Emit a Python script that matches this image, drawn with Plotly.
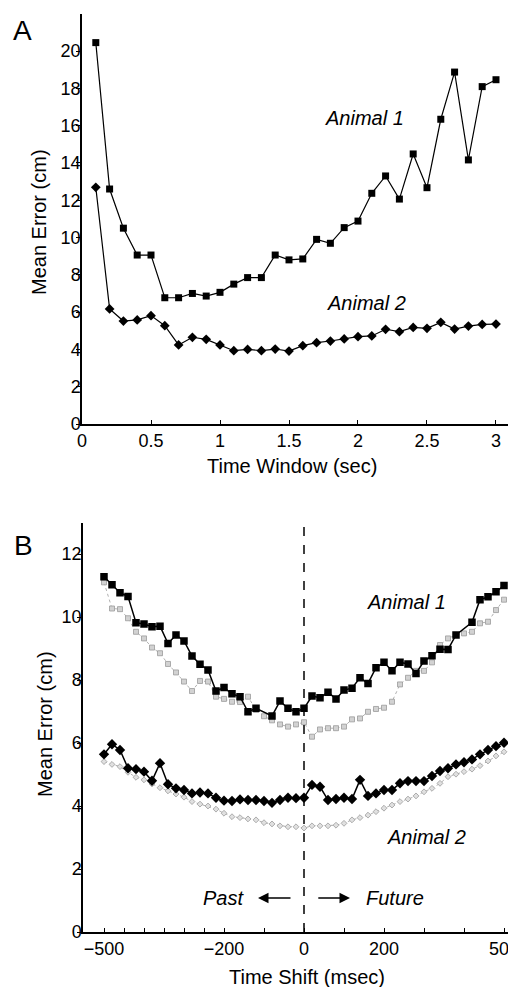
import plotly.graph_objects as go

# ---------------- Panel A data ----------------
a_time_window = [0.1, 0.2, 0.3, 0.4, 0.5, 0.6, 0.7, 0.8, 0.9, 1.0,
                 1.1, 1.2, 1.3, 1.4, 1.5, 1.6, 1.7, 1.8, 1.9, 2.0,
                 2.1, 2.2, 2.3, 2.4, 2.5, 2.6, 2.7, 2.8, 2.9, 3.0]
a_animal1 = [20.45, 12.6, 10.5, 9.06, 9.06, 6.77, 6.77, 7.0, 6.86, 7.06,
             7.5, 7.85, 7.85, 9.06, 8.8, 8.85, 9.9, 9.69, 10.53, 10.88,
             12.37, 13.3, 12.06, 14.48, 12.67, 16.34, 18.87, 14.16, 18.09, 18.46]
a_animal2 = [12.69, 6.17, 5.52, 5.58, 5.81, 5.27, 4.24, 4.65, 4.54, 4.24,
             3.93, 4.0, 3.93, 4.02, 3.91, 4.2, 4.36, 4.45, 4.56, 4.68,
             4.72, 5.08, 4.95, 5.18, 5.13, 5.45, 5.09, 5.25, 5.34, 5.36]
a_xticks = [0, 0.5, 1, 1.5, 2, 2.5, 3]
a_xticklabels = ["0", "0.5", "1", "1.5", "2", "2.5", "3"]
a_yticks = [0, 2, 4, 6, 8, 10, 12, 14, 16, 18, 20]

# ---------------- Panel B data ----------------
b_shift = [-500, -480, -460, -440, -420, -400, -380, -360, -340, -320,
           -300, -280, -260, -240, -220, -200, -180, -160, -140, -120,
           -100, -80, -60, -40, -20, 0, 20, 40, 60, 80,
           100, 120, 140, 160, 180, 200, 220, 240, 260, 280,
           300, 320, 340, 360, 380, 400, 420, 440, 460, 480, 500]
b_animal1 = [11.28, 11.02, 10.77, 10.65, 9.82, 9.78, 9.69, 9.71, 9.16, 9.43,
             9.24, 8.76, 8.50, 8.32, 7.65, 7.76, 7.56, 7.47, 6.99, 7.10,
             None, 6.86, 7.33, 7.10, 6.99, 7.10, 7.49, 7.44, 7.61, 7.40,
             7.68, 7.74, 8.07, 7.89, 8.39, 8.56, 8.29, 8.56, 8.51, 8.21,
             8.60, 8.77, 8.98, 8.97, 9.43, None, 9.83, 10.55, 10.64, 10.80, 11.00]
b_animal1_ref = [11.10, 10.27, 10.25, 9.96, 9.53, 9.32, 9.03, 8.85, 8.51, 8.24,
                 7.95, 7.65, 7.97, 7.95, 7.47, 7.40, 7.31, 7.30, 7.47, 7.05,
                 6.85, 6.72, 6.59, 6.52, 6.59, 6.66, 6.20, 6.43, 6.47, 6.47,
                 6.52, 6.75, 6.78, 6.99, 7.08, 7.12, 7.31, 7.86, 8.07, 8.29,
                 8.29, 8.56, 9.11, 9.32, 9.43, 9.48, 9.53, 9.80, 9.85, 10.22, 10.55]
b_animal2 = [5.64, 5.96, 5.78, 5.20, 5.17, 5.09, 4.80, 5.36, 4.69, 4.56,
             4.51, 4.40, 4.43, 4.40, 4.26, 4.17, 4.16, 4.21, 4.19, 4.19,
             4.16, 4.10, 4.19, 4.26, 4.25, 4.26, 4.67, 4.61, 4.19, 4.22,
             4.26, 4.22, 4.83, 4.32, 4.40, 4.51, 4.51, 4.72, 4.79, 4.79,
             4.79, 4.95, 5.11, 5.20, 5.32, 5.39, 5.48, 5.64, 5.78, 5.90, 6.01]
b_animal2_ref = [5.41, 5.32, 5.25, 5.07, 4.91, 4.83, 4.70, 4.58, 4.48, 4.38,
                 4.28, 4.14, 4.06, 4.00, 3.90, 3.77, 3.66, 3.63, 3.59, 3.56,
                 3.47, 3.43, 3.37, 3.34, 3.34, 3.30, 3.37, 3.37, 3.37, 3.39,
                 3.45, 3.56, 3.63, 3.71, 3.82, 3.93, 4.03, 4.14, 4.22, 4.32,
                 4.45, 4.56, 4.72, 4.93, 5.01, 5.09, 5.17, 5.28, 5.43, 5.59, 5.72]
b_xticks = [-500, -450, -400, -350, -300, -250, -200, -100, 0, 100, 200, 300, 400, 500]
b_xticklabels = ["\u2212500", "", "", "", "", "", "\u2212200", "", "0", "", "200", "", "", "500"]
b_yticks = [0, 2, 4, 6, 8, 10, 12]

FONT = "Liberation Sans, Arial, Helvetica, sans-serif"
OFF = 8                      # default page body margin
W, H = 516 - OFF, 987 - OFF  # figure fits inside the window


def fx(px):
    return (px - OFF) / W


def fy(py):
    return 1 - (py - OFF) / H


fig = go.Figure()

# Panel A
fig.add_trace(go.Scatter(x=a_time_window, y=a_animal1, mode="lines+markers",
                         line=dict(color="black", width=1.2),
                         marker=dict(symbol="square", size=7, color="black"),
                         xaxis="x", yaxis="y", showlegend=False, cliponaxis=False))
fig.add_trace(go.Scatter(x=a_time_window, y=a_animal2, mode="lines+markers",
                         line=dict(color="black", width=1.2),
                         marker=dict(symbol="diamond", size=7.5, color="black"),
                         xaxis="x", yaxis="y", showlegend=False, cliponaxis=False))

# Panel B - grey reference curves first
fig.add_trace(go.Scatter(x=b_shift, y=b_animal1_ref, mode="lines+markers",
                         line=dict(color="#b0b0b0", width=1, dash="dot"),
                         marker=dict(symbol="square", size=5, color="#d2d2d2",
                                     line=dict(color="#9a9a9a", width=0.8)),
                         xaxis="x2", yaxis="y2", showlegend=False))
fig.add_trace(go.Scatter(x=b_shift, y=b_animal2_ref, mode="lines+markers",
                         line=dict(color="#b0b0b0", width=1, dash="dot"),
                         marker=dict(symbol="diamond", size=4.5, color="#e0e0e0",
                                     line=dict(color="#9a9a9a", width=0.8)),
                         xaxis="x2", yaxis="y2", showlegend=False))
fig.add_trace(go.Scatter(x=b_shift, y=b_animal1, mode="lines+markers", connectgaps=True,
                         line=dict(color="black", width=1.5),
                         marker=dict(symbol="square", size=7.5, color="black"),
                         xaxis="x2", yaxis="y2", showlegend=False))
fig.add_trace(go.Scatter(x=b_shift, y=b_animal2, mode="lines+markers",
                         line=dict(color="black", width=1.5),
                         marker=dict(symbol="diamond", size=8, color="black"),
                         xaxis="x2", yaxis="y2", showlegend=False))

axis_common = dict(showline=True, linecolor="black", linewidth=1.5, showgrid=False,
                   zeroline=False, tickcolor="black", ticklen=4, tickwidth=1.2,
                   automargin=False, ticklabeloverflow="allow",
                   tickfont=dict(family=FONT, size=18, color="black"))

fig.update_layout(
    width=W, height=H,
    margin=dict(l=0, r=0, t=0, b=0, pad=0),
    paper_bgcolor="white", plot_bgcolor="white",
    font=dict(family=FONT, color="black"),
    xaxis=dict(domain=[fx(82), 1.0], range=[0, 3.145], anchor="y", ticks="inside",
               ticklabelstandoff=0,
               tickmode="array", tickvals=a_xticks, ticktext=a_xticklabels, **axis_common),
    yaxis=dict(domain=[fy(424), fy(13.7)], range=[0, 22], anchor="x", ticks="outside",
               ticklabelstandoff=-8,
               tickmode="array", tickvals=a_yticks, **axis_common),
    xaxis2=dict(domain=[fx(83), 1.0], range=[-552.5, 530], anchor="y2", ticks="inside",
                ticklabelstandoff=0,
                tickmode="array", tickvals=b_xticks, ticktext=b_xticklabels, **axis_common),
    yaxis2=dict(domain=[fy(932), fy(522.5)], range=[0, 13], anchor="x2", ticks="outside",
                ticklabelstandoff=-8,
                tickmode="array", tickvals=b_yticks, **axis_common),
)

# dashed line at zero shift
fig.add_shape(type="line", xref="x2", yref="y2", x0=0, x1=0, y0=0, y1=13,
              line=dict(color="black", width=1.5, dash="dash"))

C = dict(xanchor="center", yanchor="middle", showarrow=False)
ann = []
# panel letters
ann.append(dict(text="A", x=fx(22), y=fy(30), xref="paper", yref="paper",
                font=dict(size=28, family=FONT), **C))
ann.append(dict(text="B", x=fx(23), y=fy(545), xref="paper", yref="paper",
                font=dict(size=28, family=FONT), **C))
# axis titles
ann.append(dict(text="Mean Error (cm)", x=fx(39.5), y=fy(222.5), xref="paper", yref="paper",
                textangle=-90, font=dict(size=20, family=FONT), **C))
ann.append(dict(text="Time Window (sec)", x=fx(291.5), y=fy(466), xref="paper", yref="paper",
                font=dict(size=20, family=FONT), **C))
ann.append(dict(text="Mean Error (cm)", x=fx(45), y=fy(724), xref="paper", yref="paper",
                textangle=-90, font=dict(size=20, family=FONT), **C))
ann.append(dict(text="Time Shift (msec)", x=fx(307), y=fy(977), xref="paper", yref="paper",
                font=dict(size=20, family=FONT), **C))
# series labels
ann.append(dict(text="<i>Animal 1</i>", x=2.05, y=16.4, xref="x", yref="y",
                font=dict(size=20, family=FONT), **C))
ann.append(dict(text="<i>Animal 2</i>", x=2.06, y=6.47, xref="x", yref="y",
                font=dict(size=20, family=FONT), **C))
ann.append(dict(text="<i>Animal 1</i>", x=257, y=10.47, xref="x2", yref="y2",
                font=dict(size=20, family=FONT), **C))
ann.append(dict(text="<i>Animal 2</i>", x=307, y=3.03, xref="x2", yref="y2",
                font=dict(size=20, family=FONT), **C))
ann.append(dict(text="<i>Past</i>", x=-202, y=1.08, xref="x2", yref="y2",
                font=dict(size=20, family=FONT), **C))
ann.append(dict(text="<i>Future</i>", x=228, y=1.08, xref="x2", yref="y2",
                font=dict(size=20, family=FONT), **C))
# arrows
ann.append(dict(text="", x=-115, y=1.08, ax=-30, ay=1.08, xref="x2", yref="y2",
                axref="x2", ayref="y2", showarrow=True, arrowhead=2, arrowsize=1.4,
                arrowwidth=1.5, arrowcolor="black"))
ann.append(dict(text="", x=115, y=1.08, ax=32, ay=1.08, xref="x2", yref="y2",
                axref="x2", ayref="y2", showarrow=True, arrowhead=2, arrowsize=1.4,
                arrowwidth=1.5, arrowcolor="black"))
fig.update_layout(annotations=ann)

fig.write_html("out.html")
